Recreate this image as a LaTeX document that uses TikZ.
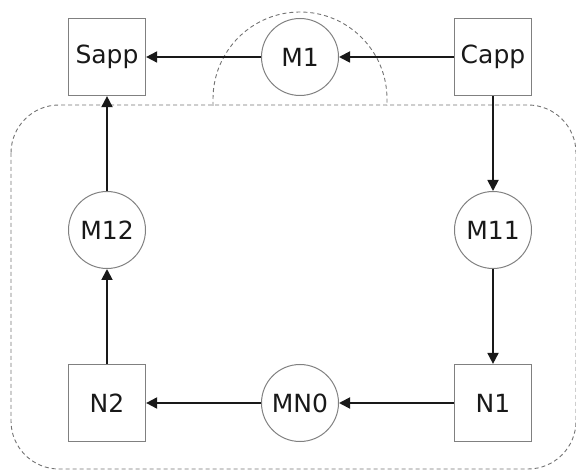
\documentclass[tikz,border=0pt]{standalone}
\usepackage{fontspec}
\setmainfont{DejaVu Sans}
\usetikzlibrary{arrows.meta,positioning}

\begin{document}
\begin{tikzpicture}[x=1pt,y=-1pt,->,>={Triangle[length=11pt,width=11pt]},
                        line width=1.8pt,color=black!90,node distance=173pt and 193pt,on grid,
                        font=\fontsize{25}{28}\selectfont,
                        app/.style={draw=black!50,line width=1.2pt,minimum size=77pt,inner sep=0pt},
                        msg/.style={circle,draw=black!50,line width=1pt,minimum size=77pt,inner sep=0pt},
                        zone/.style={-,draw=black!55,line width=0.9pt,dash pattern=on 4pt off 3pt}]

        \useasboundingbox (0,0) rectangle (576,470);

        % dashed areas
        \draw[zone,rounded corners=48pt] (11,105) rectangle (576,469);
        \draw[zone] (213,106) -- (213,99) arc[start angle=180,end angle=360,radius=87] -- (387,106);

        \node[app] (sapp) at (107,57) {Sapp};
        \node[msg] (m1) [right=of sapp] {M1};
        \node[app] (capp) [right=of m1] {Capp};
        \node[msg] (m11) [below=of capp] {M11};
        \node[app] (n1) [below=of m11] {N1};
        \node[msg] (mn0) [left=of n1] {MN0};
        \node[app] (n2) [left=of mn0] {N2};
        \node[msg] (m12) [above=of n2] {M12};

        \path (capp) edge (m1)
              (m1) edge (sapp)
              (capp) edge (m11)
              (m11) edge (n1)
              (n1) edge (mn0)
              (mn0) edge (n2)
              (n2) edge (m12)
              (m12) edge (sapp);
    \end{tikzpicture}
\end{document}
